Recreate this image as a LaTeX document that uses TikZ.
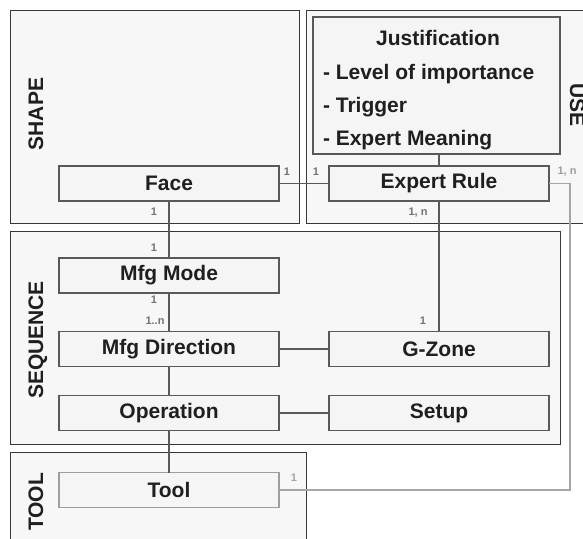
\documentclass[tikz,border=0pt]{standalone}
\usepackage{fontspec}
\setmainfont{Liberation Sans}
\begin{document}
\begin{tikzpicture}[x=1pt,y=-1pt,every node/.style={font=\fontsize{21}{25}\selectfont\bfseries, text=black!88, outer sep=0pt},
group/.style={draw=black!78, fill=black!3, line width=0.9pt},
entity/.style={draw=black!65, fill=black!4, line width=1.2pt, minimum width=220pt, minimum height=35pt, inner sep=0pt},
link/.style={draw=black!65, line width=1.2pt},
card/.style={font=\fontsize{11}{13}\selectfont\bfseries, text=black!55, inner sep=0pt}]
\useasboundingbox (0,0) rectangle (583,538);
\clip (0,0) rectangle (583,538);
% groups
\draw[group] (10,10) rectangle (299,223);
\draw[group] (306,10) rectangle (600,223);
\draw[group] (10,231) rectangle (560,444);
\draw[group] (10,452) rectangle (306,560);
\node[rotate=90,anchor=base,inner sep=0pt] (shapelbl) at (43,114) {SHAPE};
\node[rotate=-90,anchor=base,inner sep=0pt] (uselbl) at (570,105) {USE};
\node[rotate=90,anchor=base,inner sep=0pt] (seqlbl) at (43,340) {SEQUENCE};
\node[rotate=90,anchor=base,inner sep=0pt] (toollbl) at (43,502) {TOOL};
% justification
\node[entity,minimum width=247pt,minimum height=137pt] (just) at (436.5,85.5) {};
\node[anchor=base,inner sep=0pt] (justtitle) at (438,45) {Justification};
\node[anchor=base west,inner sep=0pt] (justlevel) at (323,79) {- Level of importance};
\node[anchor=base west,inner sep=0pt] (justtrig) at (323,112) {- Trigger};
\node[anchor=base west,inner sep=0pt] (justmean) at (323,145) {- Expert Meaning};
% entities
\node[entity] (face) at (169,183.5) {Face};
\node[entity] (expert) at (439,183.5) {Expert Rule};
\node[entity] (mode) at (169,275.5) {Mfg Mode};
\node[entity] (dir) at (169,349) {Mfg Direction};
\node[entity] (zone) at (439,349) {G-Zone};
\node[entity] (oper) at (169,413) {Operation};
\node[entity] (setup) at (439,413) {Setup};
\node[entity,draw=black!38] (tool) at (169,490) {Tool};
% links
\draw[link] (face) -- (expert);
\draw[link] (face) -- (mode);
\draw[link] (mode) -- (dir);
\draw[link] (dir) -- (zone);
\draw[link] (dir) -- (oper);
\draw[link] (oper) -- (setup);
\draw[link] (oper) -- (tool);
\draw[link] (expert) -- (zone);
\draw[link] (expert.north) -- (expert.north |- just.south);
\coordinate (bend) at (570,183.5);
\draw[link,draw=black!35] (expert.east) -- (bend) |- (tool.east);
% cardinalities
\node[card] (faceR) at (287,172) {1};
\node[card] (expertL) at (316,172) {1};
\node[card] (faceB) at (154,212) {1};
\node[card] (modeT) at (154,248) {1};
\node[card] (modeB) at (154,300) {1};
\node[card] (dirT) at (155,321) {1..n};
\node[card] (expertB) at (418,213) {1, n};
\node[card] (zoneT) at (423,321) {1};
\node[card,text=black!38] (expertR) at (567,172) {1, n};
\node[card,text=black!35] (toolR) at (294,478) {1};
\end{tikzpicture}
\end{document}
